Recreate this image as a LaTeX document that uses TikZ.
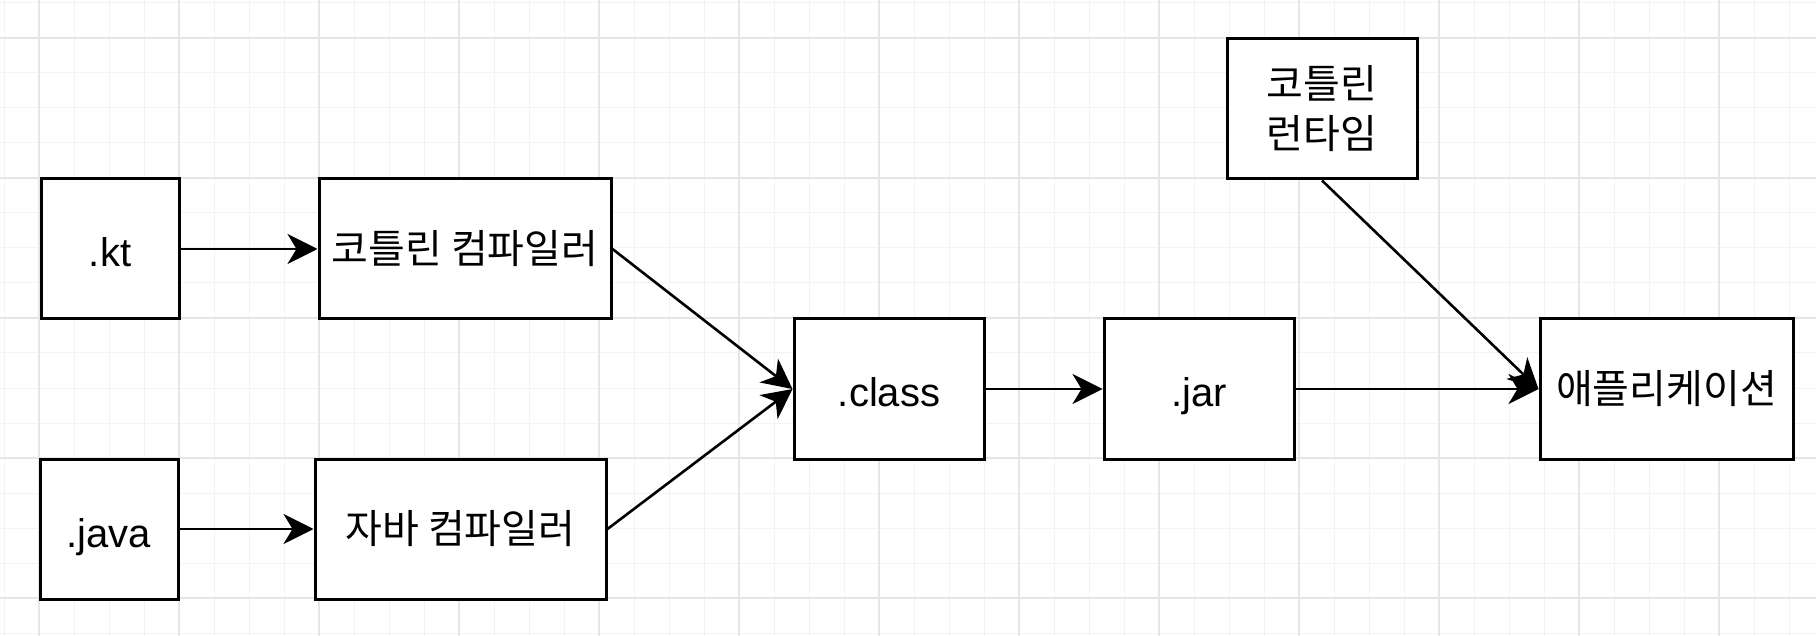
\documentclass[tikz,border=0pt]{standalone}
\usepackage{fontspec}
\setmainfont{Liberation Sans}
\newfontfamily\kr{Noto Sans CJK KR}
\usetikzlibrary{arrows.meta}
\definecolor{gridminor}{HTML}{F3F3F3}
\definecolor{gridmajor}{HTML}{E6E6E6}

\begin{document}
\begin{tikzpicture}[x=0.5pt, y=-0.5pt,
		frame/.style={draw=black, line width=1.5pt, fill=white, inner sep=0pt, minimum height=70pt},
		box/.style={frame, font=\fontsize{20pt}{24pt}\selectfont, text height=22pt, text depth=4pt},
		krbox/.style={frame, font=\kr\fontsize{20pt}{25pt}\selectfont, align=center},
		flow/.style={-{Stealth[length=15pt, width=15pt, inset=4.5pt]}, line width=1.3pt, black}]
		\useasboundingbox (0, 0) rectangle (1816, 636);

		% background grid
		\foreach \x in {4, 39, ..., 1816} \draw[gridminor, line width=0.5pt] (\x, 0) to (\x, 636);
		\foreach \y in {3, 38, ..., 636} \draw[gridminor, line width=0.5pt] (0, \y) to (1816, \y);
		\foreach \x in {39, 179, ..., 1816} \draw[gridmajor, line width=0.7pt] (\x, 0) to (\x, 636);
		\foreach \y in {38, 178, ..., 636} \draw[gridmajor, line width=0.7pt] (0, \y) to (1816, \y);

		\node[box, minimum width=69pt]		(kt)		at (110, 249)		{.kt};
		\node[krbox, minimum width=146pt]	(ktc)		at (465, 249)		{코틀린 컴파일러};
		\node[box, minimum width=69pt]		(java)		at (109, 529)		{.java};
		\node[krbox, minimum width=145.5pt]	(javac)		at (460.5, 529)		{자바 컴파일러};
		\node[box, minimum width=95pt]		(class)		at (889, 389)		{.class};
		\node[box, minimum width=95pt]		(jar)		at (1199, 389)		{.jar};
		\node[krbox, minimum width=126.5pt]	(app)		at (1666.5, 389)	{애플리케이션};
		\node[krbox, minimum width=95pt]	(runtime)	at (1322, 109)		{코틀린\\런타임};

		\draw[flow]	(kt.east) to (ktc.west);
		\draw[flow]	(java.east) to (javac.west);
		\draw[flow]	(ktc.east) to (class.west);
		\draw[flow]	(javac.east) to (class.west);
		\draw[flow]	(class.east) to (jar.west);
		\draw[flow]	(jar.east) to (app.west);
		\draw[flow]	(runtime.south) to (app.west);
	\end{tikzpicture}
\end{document}
